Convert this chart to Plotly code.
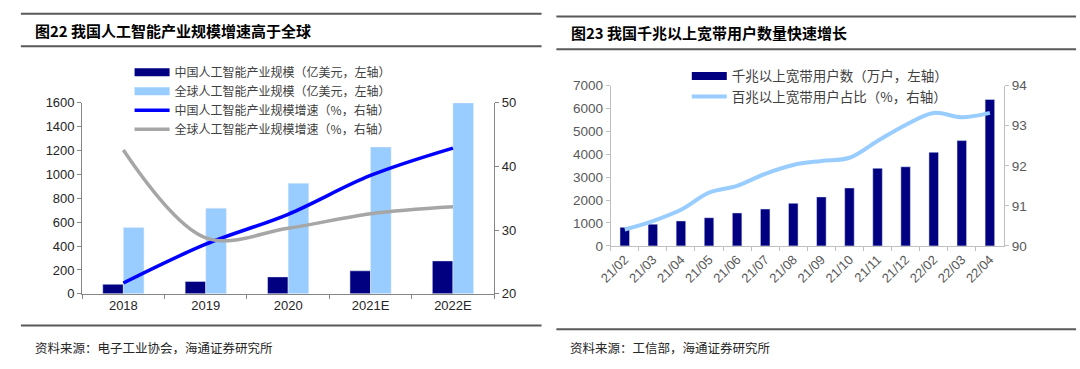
import plotly.graph_objects as go

# ---- Left chart data ----
years = ["2018", "2019", "2020", "2021E", "2022E"]
china_scale = [80, 104, 142, 193, 276]
global_scale = [555, 718, 927, 1230, 1600]
china_growth = [21.7, 27.8, 32.5, 38.6, 42.9]
global_growth = [42.6, 28.8, 30.3, 32.6, 33.7]

# ---- Right chart data ----
months = ["21/02", "21/03", "21/04", "21/05", "21/06", "21/07", "21/08",
          "21/09", "21/10", "21/11", "21/12", "22/02", "22/03", "22/04"]
gigabit_users = [810, 950, 1090, 1230, 1440, 1610, 1860, 2140, 2530,
                 3390, 3456, 4090, 4600, 6400]
share_100m = [90.41, 90.62, 90.90, 91.33, 91.50, 91.80, 92.02, 92.12,
              92.20, 92.62, 93.02, 93.32, 93.21, 93.32]

NAVY = "#000080"
LIGHT = "#99ccff"
BLUE = "#0000ff"
GRAY = "#a6a6a6"
CJK = "Noto Sans CJK SC"
TICKF = dict(family="Liberation Sans, Arial", size=13, color="#262626")
TICKF2 = dict(family="Liberation Sans, Arial", size=13.5, color="#595959")
LEGF = dict(family=CJK, size=12, color="#404040")

fig = go.Figure()

# legend entries for the bar series (left)
fig.add_trace(go.Scatter(x=[None], y=[None], mode="lines", line=dict(color=NAVY, width=8),
                         name="中国人工智能产业规模（亿美元，左轴）", legend="legend",
                         xaxis="x", yaxis="y"))
fig.add_trace(go.Scatter(x=[None], y=[None], mode="lines", line=dict(color=LIGHT, width=8),
                         name="全球人工智能产业规模（亿美元，左轴）", legend="legend",
                         xaxis="x", yaxis="y"))

fig.add_trace(go.Bar(x=years, y=china_scale, marker_color=NAVY, offset=-0.25, width=0.25,
                     showlegend=False, xaxis="x", yaxis="y"))
fig.add_trace(go.Bar(x=years, y=global_scale, marker_color=LIGHT, offset=0.0, width=0.25,
                     showlegend=False, xaxis="x", yaxis="y"))
fig.add_trace(go.Scatter(x=years, y=china_growth, mode="lines", line=dict(color=BLUE, width=3.5, shape="spline"),
                         name="中国人工智能产业规模增速（%，右轴）", legend="legend",
                         xaxis="x", yaxis="y2"))
fig.add_trace(go.Scatter(x=years, y=global_growth, mode="lines", line=dict(color=GRAY, width=3.5, shape="spline"),
                         name="全球人工智能产业规模增速（%，右轴）", legend="legend",
                         xaxis="x", yaxis="y2"))

# right chart
fig.add_trace(go.Scatter(x=[None], y=[None], mode="lines", line=dict(color=NAVY, width=8),
                         name="千兆以上宽带用户数（万户，左轴）", legend="legend2",
                         xaxis="x2", yaxis="y3"))
fig.add_trace(go.Bar(x=months, y=gigabit_users, marker_color=NAVY, width=0.34,
                     showlegend=False, xaxis="x2", yaxis="y3"))
fig.add_trace(go.Scatter(x=months, y=share_100m, mode="lines", line=dict(color=LIGHT, width=4, shape="spline"),
                         name="百兆以上宽带用户占比（%，右轴）", legend="legend2",
                         xaxis="x2", yaxis="y4"))

H = 369.0
W = 1080.0
def py(p):
    return 1 - p / H
def px(p):
    return p / W

axcommon = dict(showgrid=False, zeroline=False, showline=True, ticks="outside", ticklen=4)

fig.update_layout(
    width=1080, height=369,
    margin=dict(l=0, r=0, t=0, b=0),
    paper_bgcolor="white", plot_bgcolor="white",
    barmode="overlay",
    font=dict(family=CJK),
    xaxis=dict(domain=[px(70), px(487)], type="category", tickson="boundaries",
               linecolor="#868686", tickcolor="#868686", tickfont=dict(family="Liberation Sans, Arial", size=13, color="#262626"),
               anchor="y", **axcommon),
    yaxis=dict(domain=[py(299), py(100)], range=[0, 1600], dtick=200, anchor="x",
               linecolor="#868686", tickcolor="#868686", tickfont=TICKF, **axcommon),
    yaxis2=dict(range=[20, 50], dtick=10, overlaying="y", side="right", anchor="x",
                linecolor="#868686", tickcolor="#868686", tickfont=TICKF, **axcommon),
    xaxis2=dict(domain=[px(605), px(1003)], type="category", tickson="boundaries",
                tickangle=-45, linecolor="#bfbfbf", tickcolor="#bfbfbf",
                tickfont=dict(family="Liberation Sans, Arial", size=13, color="#595959"),
                anchor="y3", **axcommon),
    yaxis3=dict(domain=[py(249), py(82)], range=[0, 7000], dtick=1000, anchor="x2",
                linecolor="#bfbfbf", tickcolor="#bfbfbf", tickfont=TICKF2, **axcommon),
    yaxis4=dict(range=[90, 94], dtick=1, overlaying="y3", side="right", anchor="x2",
                linecolor="#bfbfbf", tickcolor="#bfbfbf", tickfont=TICKF2, **axcommon),
    legend=dict(x=px(118), y=py(53), xanchor="left", yanchor="top", bgcolor="rgba(0,0,0,0)",
                font=LEGF, tracegroupgap=0, itemwidth=35),
    legend2=dict(x=px(682), y=py(56), xanchor="left", yanchor="top", bgcolor="rgba(0,0,0,0)",
                 font=dict(family=CJK, size=13.5, color="#404040"), tracegroupgap=0, itemwidth=35),
)

# title rules and texts
shapes = []
for (x0, x1, ys) in [(8, 535, [7, 41, 332]), (550, 1076, [10, 44, 336])]:
    for yv in ys:
        shapes.append(dict(type="line", xref="paper", yref="paper", x0=px(x0), x1=px(x1),
                           y0=py(yv), y1=py(yv), line=dict(color="#595959", width=2)))
fig.update_layout(shapes=shapes)

annotations = [
    dict(text="<b>图22 我国人工智能产业规模增速高于全球</b>", x=px(20), y=py(25), xref="paper", yref="paper",
         xanchor="left", yanchor="middle", showarrow=False, font=dict(family=CJK, size=15, color="#000000")),
    dict(text="<b>图23 我国千兆以上宽带用户数量快速增长</b>", x=px(563), y=py(27), xref="paper", yref="paper",
         xanchor="left", yanchor="middle", showarrow=False, font=dict(family=CJK, size=15, color="#000000")),
    dict(text="资料来源：电子工业协会，海通证券研究所", x=px(20), y=py(355), xref="paper", yref="paper",
         xanchor="left", yanchor="middle", showarrow=False, font=dict(family=CJK, size=12.5, color="#262626")),
    dict(text="资料来源：工信部，海通证券研究所", x=px(562), y=py(355), xref="paper", yref="paper",
         xanchor="left", yanchor="middle", showarrow=False, font=dict(family=CJK, size=12.5, color="#262626")),
]
fig.update_layout(annotations=annotations)

fig.write_html(
    "out.html",
    config={"displayModeBar": False},
    post_script="document.documentElement.style.margin='0px';document.body.style.margin='0px';document.body.style.padding='0px';",
)
